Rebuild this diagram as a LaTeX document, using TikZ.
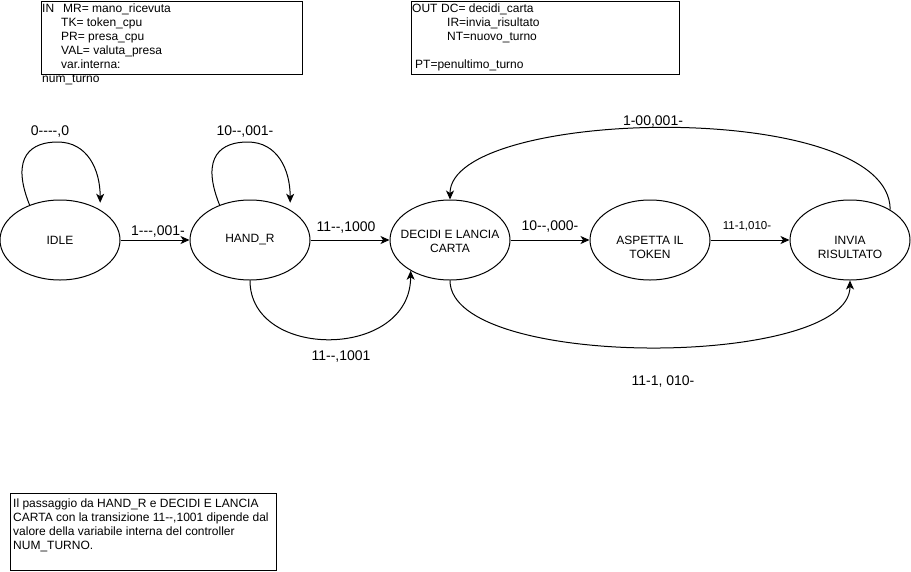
\documentclass[tikz,border=0pt]{standalone}
\usepackage{fontspec}
\setmainfont{Liberation Sans}[Ligatures=TeXOff]
\usetikzlibrary{shapes.geometric,arrows.meta}
\begin{document}
\begin{tikzpicture}[x=1pt,y=-1pt,
  state/.style={ellipse, draw, line width=1pt, minimum width=120pt,
    minimum height=80pt, inner sep=0pt},
  statetext/.style={font=\fontsize{12}{14}\selectfont, align=center, inner sep=0pt},
  lbl/.style={font=\fontsize{14}{16}\selectfont, inner sep=0pt},
  smalllbl/.style={font=\fontsize{11.5}{14}\selectfont, inner sep=0pt},
  edge/.style={draw, line width=1pt, -{Stealth[length=9pt,width=8pt,inset=2.5pt]}},
  loopedge/.style={edge, shorten >=7pt},
  infobox/.style={draw, line width=1pt},
  infotext/.style={font=\fontsize{12}{14}\selectfont, align=left,
    anchor=north west, inner sep=0pt}]
\useasboundingbox (0,0) rectangle (911,571);

% signal legend boxes
\draw[infobox] (41,1) rectangle (302,74);
\node[infotext] (intext) at (42,3.5) {%
  \makebox[21pt][l]{IN}MR= mano\_ricevuta\\
  \hspace*{19pt}TK= token\_cpu\\
  \hspace*{19pt}PR= presa\_cpu\\
  \hspace*{19pt}VAL= valuta\_presa\\
  \hspace*{19pt}var.interna:\\
  num\_turno};

\draw[infobox] (411,1) rectangle (679,74);
\node[infotext] (outtext) at (412,3.5) {%
  \makebox[29pt][l]{OUT}DC= decidi\_carta\\
  \hspace*{35pt}IR=invia\_risultato\\
  \hspace*{35pt}NT=nuovo\_turno\\[14pt]
  \hspace*{3pt}PT=penultimo\_turno};

% note box
\draw[infobox] (10,493) rectangle (276,570);
\node[infotext] (note) at (13,498.5) {%
  Il passaggio da HAND\_R e DECIDI E LANCIA\\
  CARTA con la transizione 11--,1001 dipende dal\\
  valore della variabile interna del controller\\
  NUM\_TURNO.};

% states
\node[state, label={[statetext]center:IDLE}] (idle) at (60,240) {};
\node[state, label={[statetext]center:HAND\_R}] (handr) at (250,240) {};
\node[state, label={[statetext, yshift=-1pt]center:DECIDI E LANCIA\\CARTA}] (decidi) at (450,240) {};
\node[state, label={[statetext, yshift=-7pt]center:ASPETTA IL\\TOKEN}] (aspetta) at (650,240) {};
\node[state, label={[statetext, yshift=-7pt]center:INVIA\\RISULTATO}] (invia) at (850,240) {};

% self loops
\draw[loopedge] (idle.131) .. controls +(-20,-50) and +(-25,0) .. ++(28,-63)
  .. controls +(30,0) and +(0,-40) .. (idle.37);
\draw[loopedge] (handr.131) .. controls +(-20,-50) and +(-25,0) .. ++(28,-63)
  .. controls +(30,0) and +(0,-40) .. (handr.37);

% forward transitions
\draw[edge] (idle.east) -- (handr.west);
\draw[edge] (handr.east) -- (decidi.west);
\draw[edge] (decidi.east) -- (aspetta.west);
\draw[edge] (aspetta.east) -- (invia.west);

% curved transitions
\draw[edge] (handr.south) .. controls +(0,80) and +(0,89) .. (decidi.218.5);
\draw[edge] (decidi.south) .. controls +(0,90) and +(0,88) .. (invia.south);
\draw[edge] (invia.37) .. controls +(0,-112) and +(0,-92) .. (decidi.north);

% transition labels
\node[lbl] (l1) at (50,132) {0----,0};
\node[lbl] (l2) at (245,132) {10--,001-};
\node[lbl] (l3) at (158,232) {1---,001-};
\node[lbl] (l4) at (346,228) {11--,1000};
\node[lbl] (l5) at (341,357) {11--,1001};
\node[lbl] (l6) at (550,227) {10--,000-};
\node[smalllbl] (l7) at (747,226) {11-1,010-};
\node[lbl] (l8) at (653,122) {1-00,001-};
\node[lbl] (l9) at (663,382) {11-1, 010-};
\end{tikzpicture}
\end{document}
